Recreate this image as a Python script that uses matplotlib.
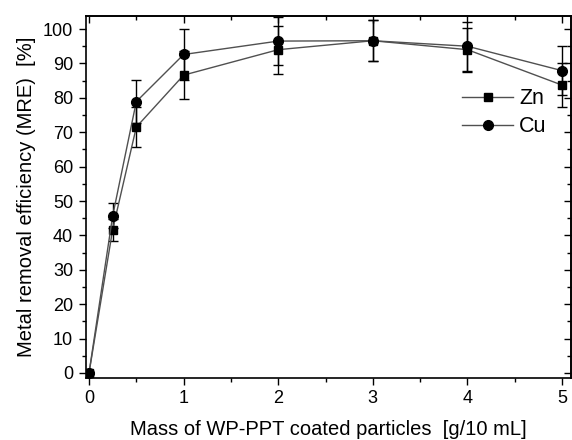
import matplotlib
matplotlib.use("Agg")
import matplotlib.pyplot as plt
from matplotlib.ticker import MultipleLocator
from matplotlib.lines import Line2D

plt.rcParams['font.family'] = ['Liberation Sans', 'DejaVu Sans']

mass = [0, 0.25, 0.5, 1, 2, 3, 4, 5]
zn = [0, 41.7, 71.5, 86.6, 94.0, 96.6, 94.0, 83.7]
zn_err = [0, 3.2, 5.8, 6.9, 7.0, 6.0, 6.4, 6.4]
cu = [0, 45.7, 78.9, 92.6, 96.5, 96.6, 95.0, 87.9]
cu_err = [0, 3.6, 6.2, 7.4, 7.0, 6.0, 7.1, 7.2]

fig = plt.figure(figsize=(5.72, 4.4), dpi=100)
ax = fig.add_axes([0.1495, 0.141, 0.848, 0.8227])

line_kw = dict(color='#505050', lw=1.0, ecolor='black', elinewidth=1.0,
               capsize=3.5, capthick=1.0, mfc='black', mec='black')
ax.errorbar(mass, zn, yerr=zn_err, marker='s', ms=6, label='Zn', **line_kw)
ax.errorbar(mass, cu, yerr=cu_err, marker='o', ms=7, label='Cu', **line_kw)

ax.set_xlim(-0.037, 5.09)
ax.set_ylim(-1.45, 103.8)
ax.xaxis.set_major_locator(MultipleLocator(1))
ax.xaxis.set_minor_locator(MultipleLocator(0.5))
ax.yaxis.set_major_locator(MultipleLocator(10))
ax.yaxis.set_minor_locator(MultipleLocator(5))
ax.tick_params(which='both', direction='out', labelsize=13, width=1.0)
ax.tick_params(which='major', length=5)
ax.tick_params(which='minor', length=3)
ax.tick_params(axis='x', pad=4)
ax.tick_params(axis='y', pad=4)
for s in ax.spines.values():
    s.set_linewidth(1.2)

# inward ticks on top and right
axt = ax.secondary_xaxis('top')
axt.xaxis.set_major_locator(MultipleLocator(1))
axt.xaxis.set_minor_locator(MultipleLocator(0.5))
axt.tick_params(which='both', direction='in', labeltop=False, width=1.0)
axt.tick_params(which='major', length=5)
axt.tick_params(which='minor', length=3)
axr = ax.secondary_yaxis('right')
axr.yaxis.set_major_locator(MultipleLocator(10))
axr.yaxis.set_minor_locator(MultipleLocator(5))
axr.tick_params(which='both', direction='in', labelright=False, width=1.0)
axr.tick_params(which='major', length=5)
axr.tick_params(which='minor', length=3)
for sa in (axt, axr):
    for s in sa.spines.values():
        s.set_linewidth(1.2)

ax.set_xlabel('Mass of WP-PPT coated particles  [g/10 mL]', fontsize=14.5, labelpad=9)
ax.set_ylabel('Metal removal efficiency (MRE)  [%]', fontsize=14.5, labelpad=5)

handles = [Line2D([], [], color='#505050', lw=1.0, marker='s', ms=6, mfc='black', mec='black'),
           Line2D([], [], color='#505050', lw=1.0, marker='o', ms=7, mfc='black', mec='black')]
ax.legend(handles, ['Zn', 'Cu'], loc='upper left', bbox_to_anchor=(0.7586, 0.824),
          frameon=False, fontsize=15.5, handlelength=2.37, handletextpad=0.28,
          labelspacing=0.33, borderaxespad=0)

fig.savefig('out.png', dpi=100)
